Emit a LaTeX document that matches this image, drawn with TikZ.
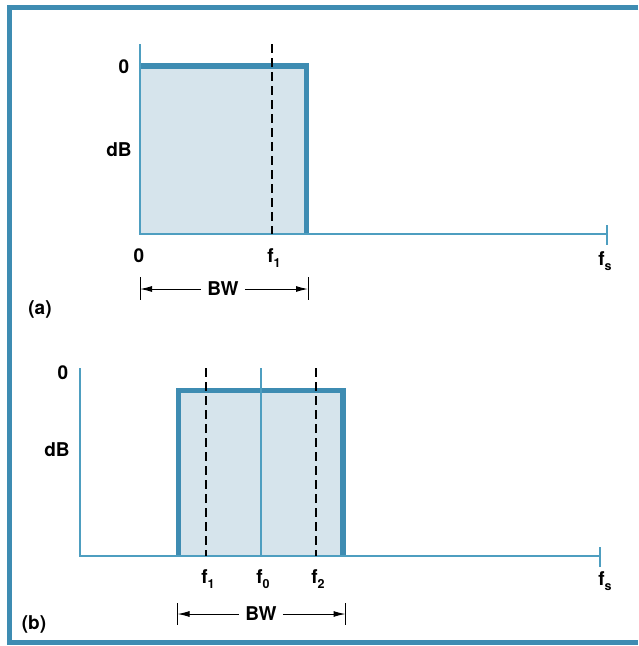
\documentclass[tikz,border=0pt]{standalone}
\usepackage{fontspec}
\setmainfont{TeX Gyre Heros}
\usetikzlibrary{arrows.meta,positioning}
\definecolor{frameblue}{RGB}{62,140,178}
\definecolor{axisblue}{RGB}{78,158,192}
\definecolor{bandfill}{RGB}{214,228,236}
\newcommand{\fsub}[1]{f\raisebox{-.5ex}{\fontsize{12.5}{14}\selectfont #1}}
\tikzset{
axis/.style={draw=axisblue,line width=1.5pt},
bandedge/.style={draw=frameblue,line width=5.5pt},
marker/.style={draw=black,line width=1.7pt,dash pattern=on 9pt off 5pt},
lbl/.style={font=\bfseries\fontsize{19}{21}\selectfont,inner sep=0pt},
bwleft/.style={{Latex[length=12pt,width=6pt]}-,line width=1pt},
bwright/.style={-{Latex[length=12pt,width=6pt]},line width=1pt},
bwtick/.style={line width=1pt}
}
\begin{document}
\begin{tikzpicture}[x=1pt,y=-1pt]
\useasboundingbox (0,0) rectangle (638,646);
% frame
\draw[frameblue,line width=5pt] (638,7.5) -- (9.5,7.5) -- (9.5,642.5) -- (638,642.5);

% (a) low-pass
\coordinate (a0) at (140,234);
\coordinate (atop) at (140,44);
\coordinate (aend) at (607,234);
\fill[bandfill] (140,66) rectangle (306.5,234);
\draw[bandedge] (140,66) -- (306.5,66) -- (306.5,234);
\draw[axis] (atop) -- (a0) -- (aend);
\draw[axis] (607,225) -- (607,245);
\coordinate (af1top) at (272,44);
\coordinate (af1bot) at (272,234);
\draw[marker] (af1top) -- (af1bot);
\node[lbl] (azero) at (124,67) {0};
\node[lbl] (adb) at (119,150) {dB};
\node[lbl] (axzero) at (139,256) {0};
\node[lbl] (af1) at (274,258) {\fsub{1}};
\node[lbl] (afs) at (605,261) {\fsub{s}};
\coordinate (abwl) at (140,289);
\coordinate (abwr) at (308,289);
\draw[bwtick] (140,277) -- (140,300);
\draw[bwtick] (308,277) -- (308,300);
\node[lbl,inner xsep=6pt] (abw) at (223,289) {BW};
\draw[bwleft] (abwl) -- (abw.west);
\draw[bwright] (abw.east) -- (abwr);
\node[lbl] (alab) at (40,309) {(a)};

% (b) band-pass
\coordinate (b0) at (80,556);
\coordinate (btop) at (80,368);
\coordinate (bend) at (600,556);
\fill[bandfill] (178.5,390.5) rectangle (343,556);
\draw[bandedge] (178.5,556) -- (178.5,390.5) -- (343,390.5) -- (343,556);
\draw[axis] (btop) -- (b0) -- (bend);
\draw[axis] (600,547) -- (600,567);
\draw[axis] (261,368) -- (261,556);
\draw[marker] (206,368) -- (206,556);
\draw[marker] (316,368) -- (316,556);
\node[lbl] (bzero) at (63,373) {0};
\node[lbl] (bdb) at (57,450) {dB};
\node[lbl] (bf1) at (208,579) {\fsub{1}};
\node[lbl] (bf0) at (263,579) {\fsub{0}};
\node[lbl] (bf2) at (318,579) {\fsub{2}};
\node[lbl] (bfs) at (605,581) {\fsub{s}};
\coordinate (bbwl) at (177.5,614);
\coordinate (bbwr) at (345.5,614);
\draw[bwtick] (177.5,603) -- (177.5,625);
\draw[bwtick] (345.5,603) -- (345.5,625);
\node[lbl,inner xsep=6pt] (bbw) at (261,614) {BW};
\draw[bwleft] (bbwl) -- (bbw.west);
\draw[bwright] (bbw.east) -- (bbwr);
\node[lbl] (blab) at (34,624) {(b)};
\end{tikzpicture}
\end{document}
